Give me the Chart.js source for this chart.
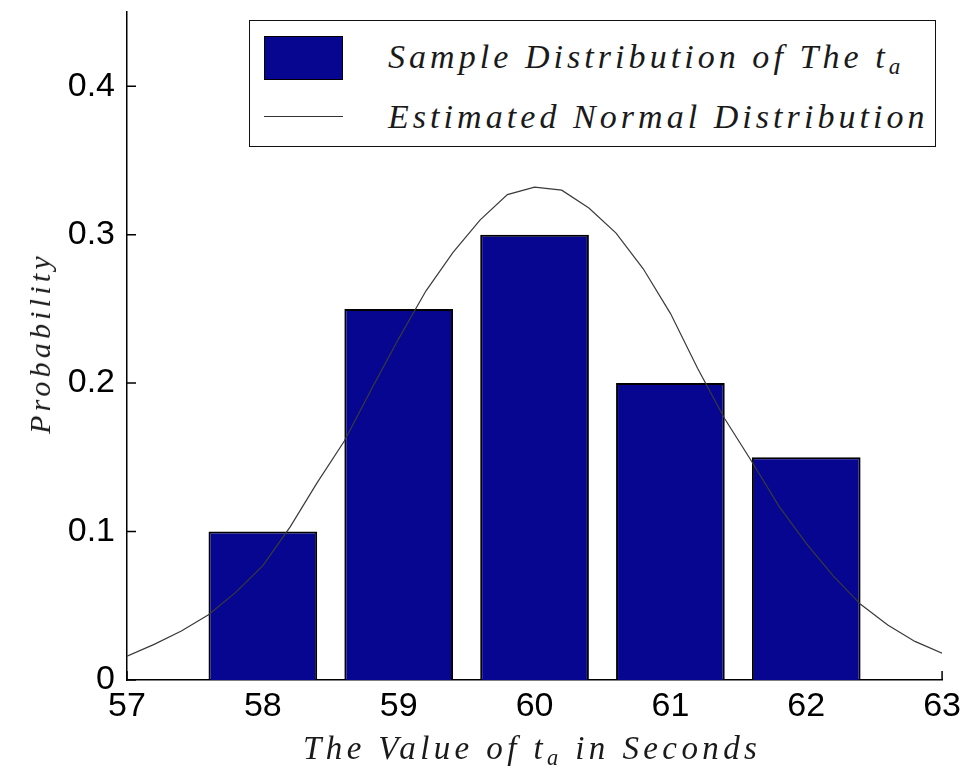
<!DOCTYPE html>
<html>
<head>
<meta charset="utf-8">
<script src="https://cdn.jsdelivr.net/npm/chart.js@4.4.1/dist/chart.umd.min.js"></script>
<style>
  html, body { margin: 0; padding: 0; background: #fff; }
  #wrap { position: relative; width: 967px; height: 768px; }
  canvas { position: absolute; left: 0; top: 0; }
  .math { position: absolute; font-family: "Liberation Serif", "DejaVu Serif", serif; font-style: italic;
          color: #1a1a1a; white-space: nowrap; line-height: 1; }
  .math sub { font-size: 0.68em; vertical-align: -0.25em; line-height: 0; }
  #legendBox { position: absolute; left: 249px; top: 20px; width: 685px; height: 125px;
               border: 1.5px solid #111; background: #fff; }
  #legPatch { position: absolute; left: 264px; top: 36px; width: 77px; height: 42px;
              background: #060690; border: 1.5px solid #000; }
  #legLine { position: absolute; left: 264px; top: 116px; width: 79px; height: 0;
             border-top: 1.5px solid #333; }
</style>
</head>
<body>
<div id="wrap">
  <canvas id="c" width="967" height="768"></canvas>
  <div id="legendBox"></div>
  <div id="legPatch"></div>
  <div id="legLine"></div>
  <div class="math" id="leg1" style="left:388px; top:39.5px; font-size:34px; letter-spacing:4.05px;"></div>
  <div class="math" id="leg2" style="left:388px; top:99.5px; font-size:34px; letter-spacing:4.05px;"></div>
  <div class="math" id="xTitle" style="left:303px; top:732px; font-size:33px; letter-spacing:4.4px;"></div>
  <div class="math" id="yTitle" style="left:40px; top:343px; font-size:30px; letter-spacing:4.2px; transform: translate(-50%,-50%) rotate(-90deg);"></div>
</div>
<script>
// ---- data ----
const categories   = [58, 59, 60, 61, 62];
const sampleProb   = [0.10, 0.25, 0.30, 0.20, 0.15];
const curveX = [57.0, 57.2, 57.4, 57.6, 57.8, 58.0, 58.2, 58.4, 58.6, 58.8, 59.0, 59.2, 59.4, 59.6, 59.8,
                60.0, 60.2, 60.4, 60.6, 60.8, 61.0, 61.2, 61.4, 61.6, 61.8, 62.0, 62.2, 62.4, 62.6, 62.8, 63.0];
const curveY = [0.016, 0.024, 0.033, 0.044, 0.059, 0.077, 0.103, 0.133, 0.161, 0.196, 0.230, 0.262, 0.288, 0.310, 0.327,
                0.332, 0.330, 0.318, 0.301, 0.277, 0.247, 0.210, 0.176, 0.147, 0.117, 0.092, 0.070, 0.051, 0.037, 0.026, 0.018];
const xTicks = [57, 58, 59, 60, 61, 62, 63];
const xTickLabels = ['57', '58', '59', '60', '61', '62', '63'];
const yTicks = [0, 0.1, 0.2, 0.3, 0.4];
const yTickLabels = ['0', '0.1', '0.2', '0.3', '0.4'];
const seriesNames = ['Sample Distribution of The t', 'Estimated Normal Distribution'];
const seriesSub = 'a';
const xTitleParts = ['The Value of t', 'a', ' in Seconds'];
const yTitleText = 'Probability';

// ---- text overlays ----
document.getElementById('leg1').innerHTML = seriesNames[0] + '<sub>' + seriesSub + '</sub>';
document.getElementById('leg2').textContent = seriesNames[1];
document.getElementById('xTitle').innerHTML = xTitleParts[0] + '<sub>' + xTitleParts[1] + '</sub>' + xTitleParts[2];
document.getElementById('yTitle').textContent = yTitleText;

// inward tick marks drawn via the library scales
const inwardTicks = {
  id: 'inwardTicks',
  beforeDatasetsDraw(chart) {
    const ctx = chart.ctx, xs = chart.scales.x, ys = chart.scales.y, a = chart.chartArea;
    ctx.save();
    ctx.strokeStyle = '#000';
    ctx.lineWidth = 1.5;
    ctx.beginPath();
    xTicks.forEach(v => { const p = xs.getPixelForValue(v); ctx.moveTo(p, a.bottom); ctx.lineTo(p, a.bottom - 9); });
    yTicks.forEach(v => { const p = ys.getPixelForValue(v); ctx.moveTo(a.left, p); ctx.lineTo(a.left + 9, p); });
    ctx.stroke();
    ctx.restore();
  }
};

const tickFont = { family: '"Liberation Sans", Arial, sans-serif', size: 34 };

new Chart(document.getElementById('c'), {
  type: 'bar',
  data: {
    datasets: [
      {
        type: 'line',
        label: seriesNames[1],
        data: curveX.map((x, i) => ({ x: x, y: curveY[i] })),
        borderColor: '#3a3a3a',
        borderWidth: 1.2,
        pointRadius: 0,
        tension: 0,
        fill: false,
        order: 0
      },
      {
        type: 'bar',
        label: seriesNames[0],
        data: categories.map((x, i) => ({ x: x, y: sampleProb[i] })),
        backgroundColor: '#060690',
        borderColor: '#000',
        borderWidth: 2,
        categoryPercentage: 0.8,
        barPercentage: 1.0,
        order: 1
      }
    ]
  },
  options: {
    responsive: false,
    animation: false,
    devicePixelRatio: 1,
    layout: { padding: { left: 0, right: 21, top: 12, bottom: 0 } },
    plugins: { legend: { display: false }, tooltip: { enabled: false } },
    scales: {
      x: {
        type: 'linear', min: 57, max: 63, offset: false,
        grid: { display: false, drawTicks: false },
        border: { display: true, color: '#000', width: 1.5 },
        afterBuildTicks: s => { s.ticks = xTicks.map(v => ({ value: v })); },
        afterFit: s => { s.height = 88; },
        ticks: {
          font: tickFont, color: '#000', padding: 6, maxRotation: 0, autoSkip: false,
          callback: (v) => { const i = xTicks.indexOf(v); return i >= 0 ? xTickLabels[i] : ''; }
        }
      },
      y: {
        type: 'linear', min: 0, max: 0.45,
        grid: { display: false, drawTicks: false },
        border: { display: true, color: '#000', width: 1.5 },
        afterBuildTicks: s => { s.ticks = yTicks.map(v => ({ value: v })); },
        afterFit: s => { s.width = 127; s.paddingTop = 0; s.paddingBottom = 0; },
        ticks: {
          font: tickFont, color: '#000', padding: 12, autoSkip: false,
          callback: (v) => { const i = yTicks.findIndex(t => Math.abs(t - v) < 1e-9); return i >= 0 ? yTickLabels[i] : ''; }
        }
      }
    }
  },
  plugins: [inwardTicks]
});
</script>
</body>
</html>
